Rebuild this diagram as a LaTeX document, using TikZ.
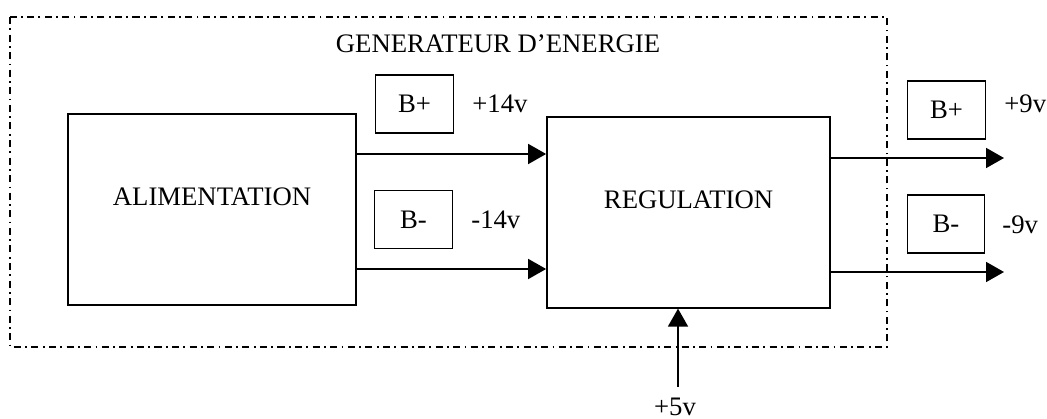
\documentclass[tikz,border=0pt]{standalone}
\usepackage{fontspec}
\setmainfont{Liberation Serif}
\usetikzlibrary{positioning,arrows.meta}

\begin{document}
\begin{tikzpicture}[
  bloc/.style={draw, line width=1pt, inner sep=0pt},
  tag/.style={draw, thick, minimum width=1.55cm, minimum height=1.16cm, inner sep=0pt},
  volt/.style={inner sep=0pt},
  arr/.style={-{Triangle[length=0.36cm, width=0.40cm]}, line width=1pt},
  cadre/.style={line width=0.8pt, dash pattern=on 4pt off 2.5pt on 1pt off 2.5pt},
  font=\fontsize{15.2}{18}\selectfont
]
  \useasboundingbox (0,0) rectangle (20.94,8.38);
  % Generator frame
  \draw[cadre] (0.20,8.04) rectangle (17.74,1.44);
  \node[volt] (titre) at (9.96,7.51) {GENERATEUR D’ENERGIE};
  % Main blocks
  \node[bloc, minimum width=5.76cm, minimum height=3.82cm] (alim) at (4.24,4.19) {};
  \node[volt] (alimtxt) at ([yshift=0.25cm]alim.center) {ALIMENTATION};
  \node[bloc, minimum width=5.66cm, minimum height=3.81cm] (reg) at (13.77,4.13) {};
  \node[volt] (regtxt) at ([yshift=0.25cm]reg.center) {REGULATION};
  % Rail tags
  \node[tag] (bp1) at (8.29,6.30) {B+};
  \node[tag] (bm1) at (8.27,3.99) {B-};
  \node[tag] (bp2) at (18.93,6.18) {B+};
  \node[tag] (bm2) at (18.92,3.90) {B-};
  \node[volt, anchor=west] (v1) at (9.44,6.30) {+14v};
  \node[volt, anchor=west] (v2) at (9.42,3.98) {-14v};
  \node[volt, anchor=east] (v3) at (20.93,6.30) {+9v};
  \node[volt, anchor=west] (v4) at (20.04,3.88) {-9v};
  % Links
  \coordinate (a1) at ([yshift=1.11cm]alim.east);
  \coordinate (a2) at ([yshift=-1.19cm]alim.east);
  \draw[arr] (a1) -- (a1 -| reg.west);
  \draw[arr] (a2) -- (a2 -| reg.west);
  \coordinate (o1) at (20.08,5.22);
  \coordinate (o2) at (20.08,2.94);
  \draw[arr] (o1 -| reg.east) -- (o1);
  \draw[arr] (o2 -| reg.east) -- (o2);
  % Logic supply
  \coordinate (in5) at (13.56,0.64);
  \draw[arr] (in5) -- (in5 |- reg.south);
  \node[volt] (v5) at (13.50,0.24) {+5v};
\end{tikzpicture}
\end{document}
